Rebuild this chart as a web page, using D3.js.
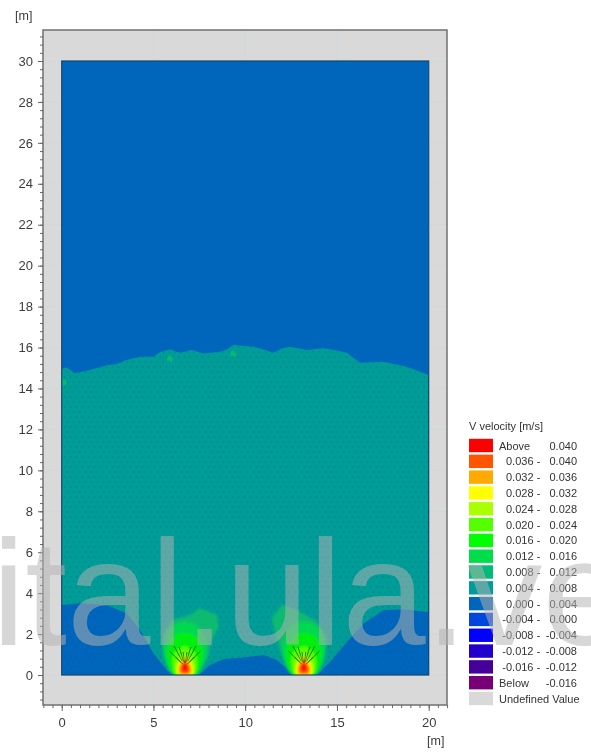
<!DOCTYPE html>
<html><head><meta charset="utf-8">
<script src="https://d3js.org/d3.v7.min.js"></script>
<style>html,body{margin:0;padding:0;background:#fff;overflow:hidden}svg{display:block}text{font-family:"Liberation Sans",Arial,sans-serif}</style>
</head><body><svg id="c" width="591" height="753"></svg>
<script>
const xMajor=[0,5,10,15,20];
const yMajor=[0,2,4,6,8,10,12,14,16,18,20,22,24,26,28,30];
const legendTitle="V velocity [m/s]";
const legendColors=["#ff0000","#ff5500","#ffaa00","#ffff00","#aaff00","#55ff00","#00ff00","#00dd4c","#00bb77","#009c9c","#0066bb","#0044dd","#0000ff","#2200cc","#440099","#770077"];
const legendLow=["Above","0.036","0.032","0.028","0.024","0.020","0.016","0.012","0.008","0.004","0.000","-0.004","-0.008","-0.012","-0.016","Below"];
const legendHigh=["0.040","0.040","0.036","0.032","0.028","0.024","0.020","0.016","0.012","0.008","0.004","0.000","-0.004","-0.008","-0.012","-0.016"];
const waterColumnTop=[[0.05,14.98],[0.27,15.03],[0.72,14.74],[1.54,14.9],[2.45,15.14],[3.0,15.2],[3.54,15.39],[4.27,15.55],[4.99,15.55],[5.4,15.8],[5.9,15.91],[6.45,15.75],[7.08,15.88],[7.72,15.71],[8.63,15.79],[9.0,15.9],[9.35,16.12],[10.44,16.04],[11.0,15.9],[11.53,15.75],[12.0,15.95],[12.44,16.04],[13.35,15.88],[14.26,15.96],[15.0,15.85],[15.53,15.75],[16.26,15.26],[17.53,15.31],[18.8,15.06],[20,14.66]];
const lowerBlue=[[0,0],[0,3.42],[1,3.5],[2.45,3.42],[3.55,3.01],[4.27,2.2],[5,1.06],[5.73,0.24],[6.09,0],[7.45,0],[8.09,0.49],[8.82,0.78],[9.91,0.86],[11,0.98],[11.73,0.73],[12.36,0.24],[12.64,0],[13.9,0],[14.64,0.65],[15.55,1.63],[16.45,2.52],[17.55,3.18],[18.64,3.21],[20,3.06],[20,0]];
const haloLeft=[[5.55,2.04],[6,2.69],[7,2.93],[7.55,3.26],[8.45,2.93],[8.55,2.36],[8.09,1.55],[8,0.9],[7.45,0.24],[7.18,0],[6.18,0],[5.91,0.57],[5.55,1.22]];
const haloRight=[[11.45,2.77],[12,3.42],[12.82,3.18],[13.9,2.61],[14.55,1.71],[14.09,0.9],[13.73,0.24],[13.5,0],[12.64,0],[12.36,0.41],[11.91,1.22],[11.64,2.04]];
const spots=[[9.35,15.7],[5.9,15.45],[0.1,14.3]];
const sources=[6.72,13.2];
const level012=[[-0.62,0],[-1.1,0.8],[-1.15,1.6],[-0.75,2.35],[0,2.6],[0.75,2.35],[1.15,1.6],[1.1,0.8],[0.62,0]];
const level016=[[-0.55,0],[-0.9,0.6],[-0.95,1.3],[-0.5,1.95],[0.1,2.05],[0.65,1.85],[0.95,1.2],[0.85,0.5],[0.55,0]];
const level020=[[-0.48,0],[-0.68,0.5],[-0.6,1.05],[0,1.4],[0.55,1.05],[0.68,0.5],[0.48,0]];
const level024=[[-0.42,0],[-0.52,0.4],[-0.38,0.8],[0,1.0],[0.38,0.8],[0.52,0.4],[0.42,0]];
const level028=[[-0.36,0.02],[-0.42,0.35],[0,0.85],[0.42,0.35],[0.36,0.02]];
const level032=[[-0.3,0.05],[-0.33,0.4],[0,0.74],[0.33,0.4],[0.3,0.05]];
const level036=[[-0.2,0.12],[-0.24,0.4],[0,0.66],[0.24,0.4],[0.2,0.12]];
const level040=[[-0.1,0.22],[-0.12,0.42],[0,0.56],[0.12,0.42],[0.1,0.22]];
const levelSets=[level012,level016,level020,level024,level028,level032,level036,level040];
const levelColors=["#00d850","#00f008","#55ff00","#aaff00","#ffff00","#ffaa00","#ff5500","#ff0000"];
const jets=[[-0.85,0.75],[-0.6,1.0],[-0.32,0.95],[-0.1,0.7],[0.1,0.7],[0.32,0.95],[0.6,1.0],[0.85,0.75],[-0.5,0.45],[0.5,0.45]];

const svg=d3.select("#c");
const x=d3.scaleLinear().domain([0,20]).range([61.7,428.7]);
const y=d3.scaleLinear().domain([0,30]).range([675,61]);
const F={l:43,r:447,t:30,b:705};
const defs=svg.append("defs");
defs.append("filter").attr("id","soft").append("feGaussianBlur").attr("stdDeviation",0.45);
defs.append("filter").attr("id","plume").attr("x","-30%").attr("y","-30%").attr("width","160%").attr("height","160%").append("feGaussianBlur").attr("stdDeviation",1.0);
defs.append("filter").attr("id","halo").attr("x","-30%").attr("y","-30%").attr("width","160%").attr("height","160%").append("feGaussianBlur").attr("stdDeviation",1.6);
const pat=defs.append("pattern").attr("id","mesh").attr("patternUnits","userSpaceOnUse").attr("width",6).attr("height",10);
[[1.5,2],[4.5,7]].forEach(p=>pat.append("circle").attr("cx",p[0]).attr("cy",p[1]).attr("r",0.8).attr("fill","#003a4a").attr("opacity",0.3));
defs.append("clipPath").attr("id","dom").append("rect").attr("x",x(0)).attr("y",y(30)).attr("width",x(20)-x(0)).attr("height",y(0)-y(30));

const g=svg.append("g").attr("filter","url(#soft)");
g.append("rect").attr("x",F.l).attr("y",F.t).attr("width",F.r-F.l).attr("height",F.b-F.t).attr("fill","#d9d9d9");
xMajor.slice(1,4).forEach(v=>g.append("line").attr("x1",x(v)).attr("x2",x(v)).attr("y1",F.t).attr("y2",F.b).attr("stroke","#cfd8dc"));
yMajor.forEach(v=>g.append("line").attr("x1",F.l).attr("x2",F.r).attr("y1",y(v)).attr("y2",y(v)).attr("stroke","#cfd8dc"));

const line=d3.line().x(d=>x(d[0])).y(d=>y(d[1]));
const field=g.append("g").attr("clip-path","url(#dom)");
field.append("rect").attr("x",x(0)).attr("y",y(30)).attr("width",x(20)-x(0)).attr("height",y(0)-y(30)).attr("fill","#0066bb");
const tealPts=[[0,0],[0,14.9]].concat(waterColumnTop,[[20,0]]);
field.append("path").attr("d",line(tealPts)+"Z").attr("fill","#059d98");
field.selectAll("circle.spot").data(spots).join("circle").attr("class","spot").attr("cx",d=>x(d[0])).attr("cy",d=>y(d[1])).attr("r",3).attr("fill","#00bb77");
field.append("path").attr("d",line(tealPts)+"Z").attr("fill","url(#mesh)");
field.append("path").attr("d",line(lowerBlue)+"Z").attr("fill","#0066bb").attr("filter","url(#soft)");
field.append("path").attr("d",line(lowerBlue)+"Z").attr("fill","url(#mesh)").attr("opacity",0.5);
[haloLeft,haloRight].forEach(h=>field.append("path").attr("d",line(h)+"Z").attr("fill","#10bb70").attr("filter","url(#halo)"));
sources.forEach(cx=>{
  const pg=field.append("g").attr("filter","url(#plume)");
  levelSets.forEach((lv,i)=>pg.append("path")
    .attr("d",d3.line().curve(d3.curveCatmullRomClosed).x(d=>x(cx+d[0])).y(d=>y(d[1]))(lv))
    .attr("fill",levelColors[i]));
  field.selectAll(null).data(jets).join("line")
    .attr("x1",d=>x(cx+d[0]*0.25)).attr("y1",d=>y(0.42+d[1]*0.25))
    .attr("x2",d=>x(cx+d[0])).attr("y2",d=>y(0.42+d[1]))
    .attr("stroke","#0a3010").attr("stroke-width",1).attr("opacity",0.6);
});
g.append("rect").attr("x",x(0)).attr("y",y(30)).attr("width",x(20)-x(0)).attr("height",y(0)-y(30)).attr("fill","none").attr("stroke","#15466b").attr("stroke-width",1.2);
g.append("rect").attr("x",F.l).attr("y",F.t).attr("width",F.r-F.l).attr("height",F.b-F.t).attr("fill","none").attr("stroke","#707070").attr("stroke-width",1.5);

function styleAxis(a,size){a.select(".domain").remove();a.selectAll("line").attr("stroke","#666");a.selectAll("text").attr("font-size",size).attr("fill","#3c3c3c");}
const xMinor=d3.range(-1,21.01,0.5), yMinor=d3.range(-1.2,31.3,0.4);
const fullX=d3.scaleLinear().domain([-1,21]).range([x(-1),x(21)]);
const fullY=d3.scaleLinear().domain([-1.2,31.2]).range([y(-1.2),y(31.2)]);
const xm=g.append("g").attr("transform",`translate(0,${F.b})`).call(d3.axisBottom(fullX).tickValues(xMinor).tickSize(3).tickFormat(""));
styleAxis(xm,0); xm.selectAll("text").remove();
styleAxis(g.append("g").attr("transform",`translate(0,${F.b})`).call(d3.axisBottom(fullX).tickValues(xMajor).tickSize(6).tickPadding(7).tickFormat(d3.format("d"))),13);
const ym=g.append("g").attr("transform",`translate(${F.l},0)`).call(d3.axisLeft(fullY).tickValues(yMinor).tickSize(3).tickFormat(""));
styleAxis(ym,0); ym.selectAll("text").remove();
styleAxis(g.append("g").attr("transform",`translate(${F.l},0)`).call(d3.axisLeft(fullY).tickValues(yMajor).tickSize(5).tickPadding(5).tickFormat(d3.format("d"))),13);
g.append("text").attr("x",15).attr("y",20).attr("font-size",12.5).attr("fill","#3c3c3c").text("[m]");
g.append("text").attr("x",427).attr("y",745).attr("font-size",12.5).attr("fill","#3c3c3c").text("[m]");

const lg=g.append("g");
const rowY=d3.scaleLinear().domain([0,16]).range([445.5,698.5]);
lg.append("text").attr("x",469).attr("y",430).attr("font-size",11).attr("fill","#333").text(legendTitle);
const rows=lg.selectAll("g").data(legendColors).join("g").attr("transform",(d,i)=>`translate(0,${rowY(i)})`);
rows.append("rect").attr("x",469).attr("y",-6.7).attr("width",24).attr("height",13.4).attr("fill",d=>d);
rows.append("text").attr("y",4).attr("font-size",11).attr("fill","#333").each(function(d,i){
  const t=d3.select(this);
  if(i===0||i===15){t.attr("x",499).text(legendLow[i]);}
  else{t.attr("x",533.5).attr("text-anchor","end").text(legendLow[i]);}
});
rows.filter((d,i)=>i>0&&i<15).append("text").attr("y",4).attr("font-size",11).attr("fill","#333").attr("x",538.5).attr("text-anchor","middle").text("-");
rows.append("text").attr("y",4).attr("font-size",11).attr("fill","#333").attr("x",577).attr("text-anchor","end").text((d,i)=>legendHigh[i]);
lg.append("rect").attr("x",469).attr("y",rowY(16)-6.7).attr("width",24).attr("height",13.4).attr("fill","#d9d9d9");
lg.append("text").attr("x",499).attr("y",rowY(16)+4).attr("font-size",11).attr("fill","#333").text("Undefined Value");

svg.append("text").attr("x",-8).attr("y",645).attr("font-size",150).attr("fill","#b2b2b2").attr("fill-opacity",0.52).text("ital.ula.ve");
</script></body></html>
